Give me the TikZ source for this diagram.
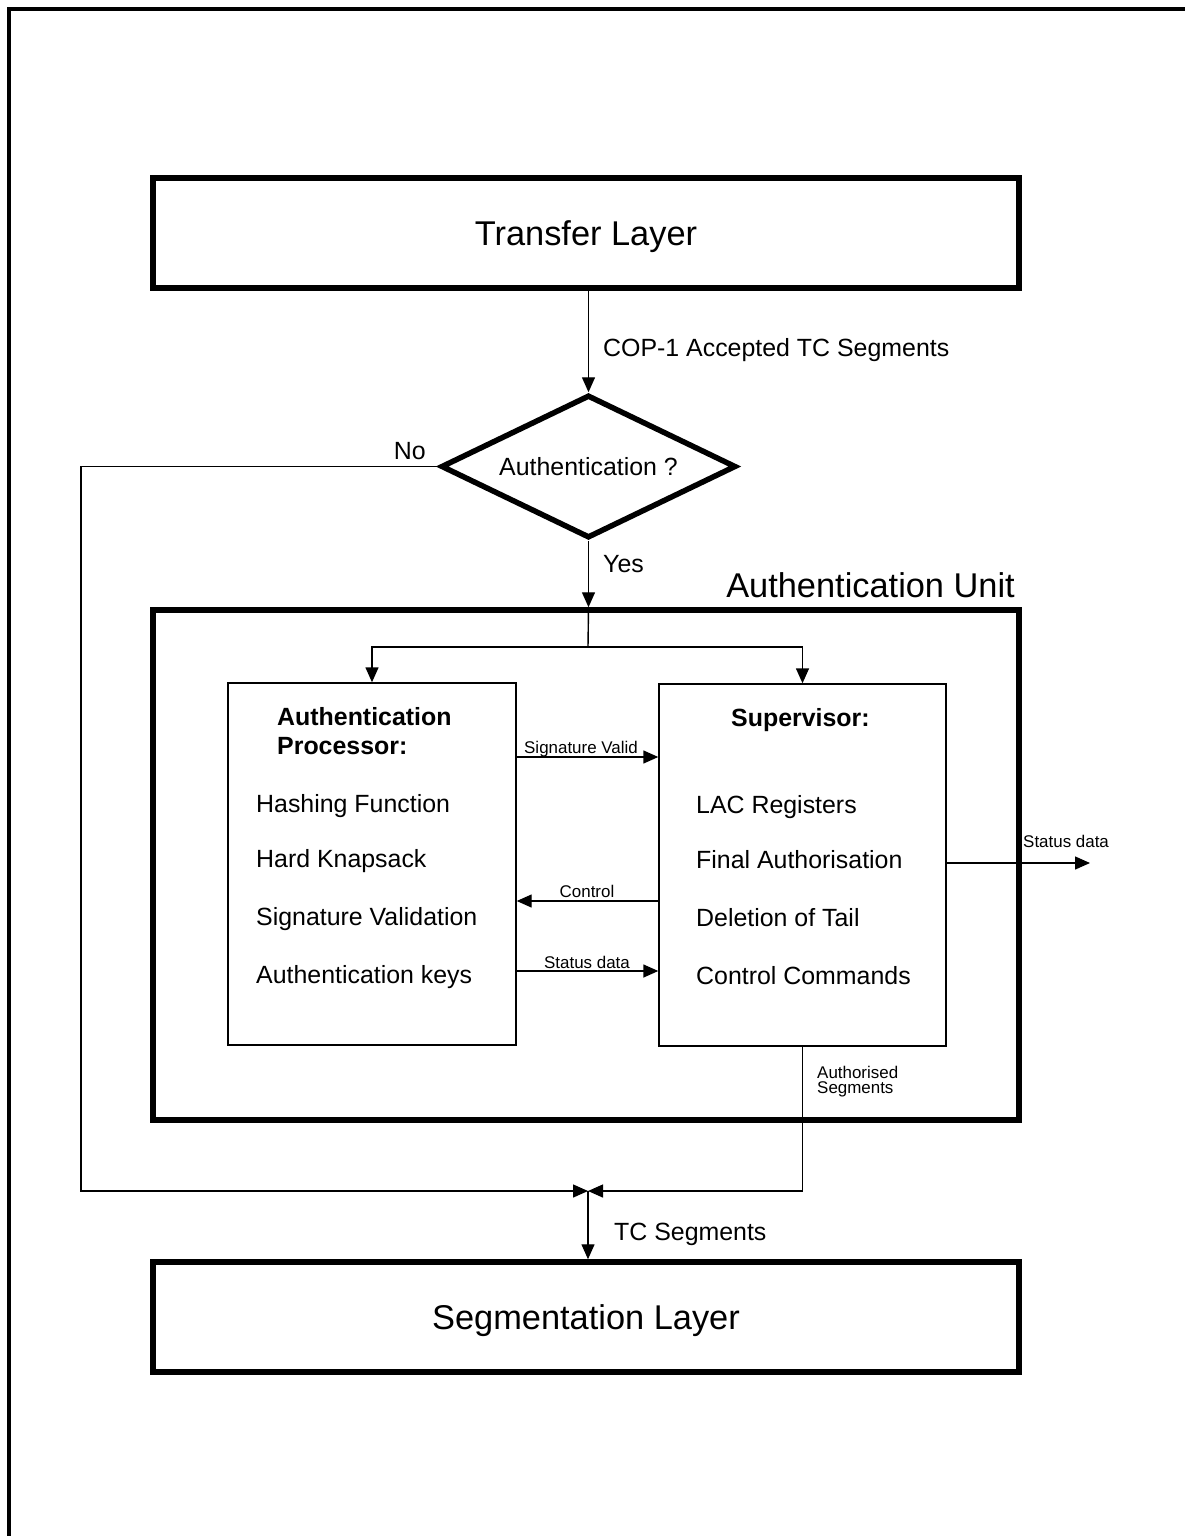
\documentclass[tikz,border=0pt]{standalone}
\usepackage{fontspec}
\setmainfont{Liberation Sans}
\usetikzlibrary{shapes.geometric,arrows.meta}
\begin{document}
\begin{tikzpicture}[x=1bp,y=-1bp,
  thickbox/.style={draw,line width=5.5bp,inner sep=0pt},
  thinbox/.style={draw,line width=1.4bp,inner sep=0pt},
  flow/.style={line width=1.4bp,-{Triangle[length=15bp,width=13bp]}},
  plain/.style={line width=1.4bp},
  bigtxt/.style={font=\fontsize{34.5}{38}\selectfont},
  midtxt/.style={font=\fontsize{25}{28}\selectfont},
  smalltxt/.style={font=\fontsize{17}{15}\selectfont},
  lbl/.style={inner sep=0pt},
]
\useasboundingbox (0,0) rectangle (1185,1536);
\draw[line width=3.5bp] (9,1536) -- (9,9) -- (1185,9);

% main boxes
\node[thickbox,bigtxt,text depth=0pt,minimum width=866bp,minimum height=110bp] (transfer) at (586,233) {Transfer Layer};
\node[thickbox,diamond,aspect=2.06,minimum width=295bp,minimum height=143bp,midtxt,text depth=0pt] (dec) at (588.5,466.5) {Authentication ?};
\node[thickbox,minimum width=866bp,minimum height=510bp] (unit) at (586,865) {};
\node[bigtxt,lbl,anchor=base east] (unitlbl) at (1015,597) {Authentication Unit};
\node[thinbox,minimum width=288bp,minimum height=362bp] (proc) at (372,864) {};
\node[thinbox,minimum width=287bp,minimum height=362bp] (sup) at (802.5,865) {};
\node[thickbox,bigtxt,text depth=0pt,minimum width=866bp,minimum height=110bp] (seg) at (586,1317) {Segmentation Layer};

% processor texts
\node[midtxt,lbl,anchor=base west] (ptitle) at (277,725) {\bfseries Authentication};
\node[midtxt,lbl,anchor=base west] (ptitle2) at (277,754) {\bfseries Processor:};
\node[midtxt,lbl,anchor=base west] (p1) at (256,812) {Hashing Function};
\node[midtxt,lbl,anchor=base west] (p2) at (256,867) {Hard Knapsack};
\node[midtxt,lbl,anchor=base west] (p3) at (256,925) {Signature Validation};
\node[midtxt,lbl,anchor=base west] (p4) at (256,983) {Authentication keys};

% supervisor texts
\node[midtxt,lbl,anchor=base west] (stitle) at (731,726) {\bfseries Supervisor:};
\node[midtxt,lbl,anchor=base west] (s1) at (696,813) {LAC Registers};
\node[midtxt,lbl,anchor=base west] (s2) at (696,868) {Final Authorisation};
\node[midtxt,lbl,anchor=base west] (s3) at (696,926) {Deletion of Tail};
\node[midtxt,lbl,anchor=base west] (s4) at (696,984) {Control Commands};

% coordinates
\coordinate (split) at (588,647);
\coordinate (join) at (588,1191);
\coordinate (nox) at (81,1191);
\coordinate (outend) at (1090,863);

% top flow
\draw[flow] (transfer.south -| dec.north) -- (dec.north);
\node[midtxt,lbl,anchor=base west] (cop) at (603,356) {COP-1 Accepted TC Segments};
\draw[flow] (dec.south) -- (dec.south |- unit.north);
\node[midtxt,lbl,anchor=base west] (yes) at (603,572) {Yes};
\node[midtxt,lbl,anchor=base east] (no) at (426,459) {No};

\draw[plain] (dec.south |- unit.north) -- (split);
\draw[flow] (split) -| (proc.north);
\draw[flow] (split) -| (sup.north);

% between boxes
\draw[flow] (proc.east |- 0,757) -- (sup.west |- 0,757);
\node[smalltxt,lbl,anchor=base] (sv) at (581,753) {Signature Valid};
\draw[flow] (sup.west |- 0,901) -- (proc.east |- 0,901);
\node[smalltxt,lbl,anchor=base] (ctl) at (587,897) {Control};
\draw[flow] (proc.east |- 0,971) -- (sup.west |- 0,971);
\node[smalltxt,lbl,anchor=base] (sd) at (587,968) {Status data};

% status out
\draw[flow] (sup.east |- outend) -- (outend);
\node[smalltxt,lbl,anchor=base west] (sdout) at (1023,847) {Status data};

% authorised segments
\draw[flow] (sup.south) |- (join);
\node[smalltxt,lbl,anchor=north west,align=left] (auths) at (817,1066) {Authorised\\Segments};

% no path
\draw[flow] (dec.west) -| (nox) -- (join);

% to segmentation
\draw[flow] (join) -- (join |- seg.north);
\node[midtxt,lbl,anchor=base west] (tcs) at (614,1240) {TC Segments};
\end{tikzpicture}
\end{document}
